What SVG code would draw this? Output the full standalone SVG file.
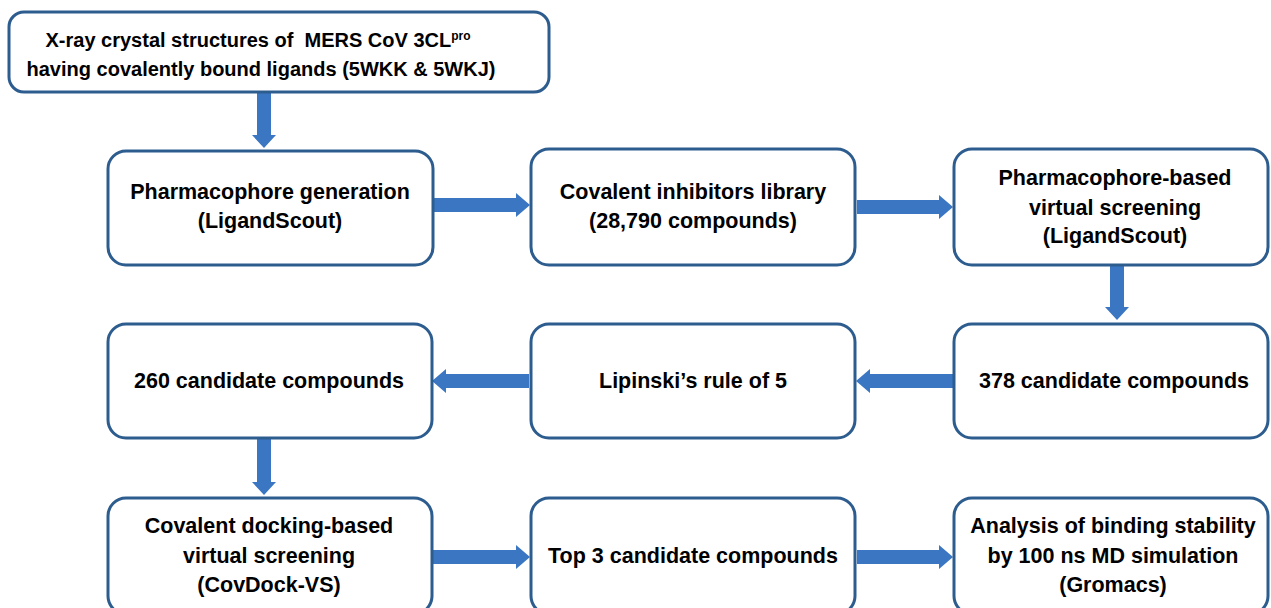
<svg xmlns="http://www.w3.org/2000/svg" width="1271" height="608" viewBox="0 0 1271 608">
<defs>
<style>
.box{fill:#ffffff;stroke:#2D5C8E;stroke-width:3}
.t{font-family:"Liberation Sans",Arial,sans-serif;font-weight:bold;font-size:21.5px;fill:#000;text-anchor:middle}
.tt{font-size:20px}
.arr{fill:#3B76C3}
</style>
</defs>
<rect x="0" y="0" width="1271" height="608" fill="#ffffff"/>
<g id="connectors">
<polygon class="arr" points="257,93 271,93 271,135 276,135 264,148 252,135 257,135"/>
<polygon class="arr" points="433,198 516,198 516,193 530,205 516,217 516,212 433,212"/>
<polygon class="arr" points="857,200 939,200 939,195 953,207 939,219 939,214 857,214"/>
<polygon class="arr" points="1110,266 1124,266 1124,307 1129,307 1117,320 1105,307 1110,307"/>
<polygon class="arr" points="953,374 870,374 870,369 856,381 870,393 870,388 953,388"/>
<polygon class="arr" points="529,374 446,374 446,369 432,381 446,393 446,388 529,388"/>
<polygon class="arr" points="257,439 271,439 271,482 276,482 264,495 252,482 257,482"/>
<polygon class="arr" points="432,550 516,550 516,545 530,557 516,569 516,564 432,564"/>
<polygon class="arr" points="857,550 939,550 939,545 953,557 939,569 939,564 857,564"/>
</g>
<g id="n_xray">
<rect class="box" x="9" y="12" width="540" height="80" rx="15"/>
<text class="t tt" x="258" y="47" xml:space="preserve">X-ray crystal structures of  MERS CoV 3CL<tspan font-size="12" dy="-7">pro</tspan></text>
<text class="t tt" x="261" y="76">having covalently bound ligands (5WKK &amp; 5WKJ)</text>
</g>
<g id="n_pharm">
<rect class="box" x="108" y="151" width="325" height="114" rx="18"/>
<text class="t" x="270" y="199">Pharmacophore generation</text>
<text class="t" x="270" y="228">(LigandScout)</text>
</g>
<g id="n_lib">
<rect class="box" x="531" y="149" width="324" height="116" rx="18"/>
<text class="t" x="693" y="199">Covalent inhibitors library</text>
<text class="t" x="693" y="228">(28,790 compounds)</text>
</g>
<g id="n_pvs">
<rect class="box" x="954" y="149" width="314" height="116" rx="18"/>
<text class="t" x="1115" y="185">Pharmacophore-based</text>
<text class="t" x="1115" y="215">virtual screening</text>
<text class="t" x="1115" y="243">(LigandScout)</text>
</g>
<g id="n_378">
<rect class="box" x="954" y="324" width="314" height="114" rx="18"/>
<text class="t" x="1114" y="388">378 candidate compounds</text>
</g>
<g id="n_lip">
<rect class="box" x="531" y="324" width="324" height="114" rx="18"/>
<text class="t" x="693" y="388">Lipinski’s rule of 5</text>
</g>
<g id="n_260">
<rect class="box" x="108" y="324" width="324" height="114" rx="18"/>
<text class="t" x="269" y="388">260 candidate compounds</text>
</g>
<g id="n_dock">
<rect class="box" x="108" y="498" width="324" height="116" rx="18"/>
<text class="t" x="269" y="533">Covalent docking-based</text>
<text class="t" x="269" y="563">virtual screening</text>
<text class="t" x="269" y="592">(CovDock-VS)</text>
</g>
<g id="n_top3">
<rect class="box" x="531" y="498" width="324" height="116" rx="18"/>
<text class="t" x="693" y="563">Top 3 candidate compounds</text>
</g>
<g id="n_md">
<rect class="box" x="954" y="498" width="314" height="116" rx="18"/>
<text class="t" x="1113" y="533">Analysis of binding stability</text>
<text class="t" x="1113" y="563">by 100 ns MD simulation</text>
<text class="t" x="1113" y="592">(Gromacs)</text>
</g>
</svg>
